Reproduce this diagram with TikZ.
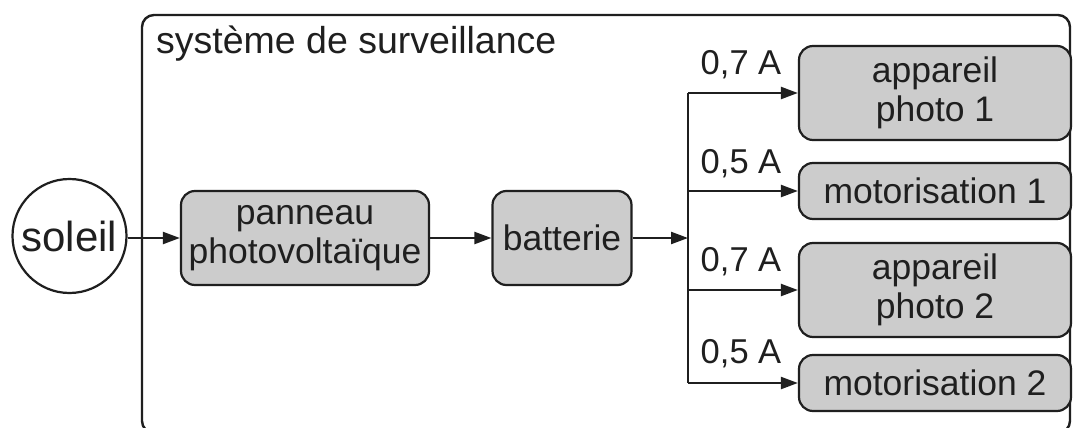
\documentclass[tikz,border=0pt]{standalone}
\usepackage{fontspec}
\setmainfont{Liberation Sans}
\usetikzlibrary{arrows.meta,positioning}
\definecolor{boxfill}{gray}{0.80}
\definecolor{ink}{gray}{0.12}
\tikzset{
  box/.style={draw=ink, line width=2.2pt, fill=boxfill, rounded corners=14pt,
    align=center, inner sep=0pt, font=\fontsize{35.5}{38.5}\selectfont, text=ink},
  arr/.style={draw=ink, line width=2.2pt, -{Triangle[length=17pt,width=12pt]}},
  wire/.style={draw=ink, line width=2.2pt},
  lbl/.style={font=\fontsize{34.5}{38}\selectfont, text=ink, inner sep=0pt},
}
\begin{document}
\begin{tikzpicture}[x=1pt,y=-1pt]
\useasboundingbox (0,0) rectangle (1074,428);
\path[fill=white] (0,0) rectangle (1074,428);
\begin{scope}
\clip (0,0) rectangle (1074,428);
% frame
\draw[ink, line width=2.4pt, rounded corners=12pt] (142,15) rectangle (1070,433);
\end{scope}
\node[lbl, font=\fontsize{37.5}{40}\selectfont, anchor=west] (title) at (156,44) {système de surveillance};
% nodes
\node[draw=ink, line width=2.2pt, circle, fill=white, minimum size=114pt, inner sep=0pt,
      font=\fontsize{42}{44}\selectfont, text=ink] (sol) at (69.5,236) {soleil};
\node[box, minimum width=248pt, minimum height=94pt] (pan) at (305,238) {panneau\\photovoltaïque};
\node[box, minimum width=139pt, minimum height=94pt] (bat) at (562,238) {batterie};
\coordinate (jx) at (688,238);
\node[box, minimum width=272pt, minimum height=94pt] (ap1) at (935,93) {appareil\\photo 1};
\node[box, minimum width=272pt, minimum height=56pt] (mo1) at (935,191) {motorisation 1};
\node[box, minimum width=272pt, minimum height=94pt] (ap2) at (935,290) {appareil\\photo 2};
\node[box, minimum width=272pt, minimum height=56pt] (mo2) at (935,383) {motorisation 2};
% connectors
\draw[arr] (sol.east |- pan.west) -- (pan.west);
\draw[arr] (pan.east) -- (bat.west);
\draw[arr] (bat.east) -- (jx);
\draw[wire] (jx |- ap1.west) -- (jx |- mo2.west);
\draw[arr] (jx |- ap1.west) -- (ap1.west);
\draw[arr] (jx |- mo1.west) -- (mo1.west);
\draw[arr] (jx |- ap2.west) -- (ap2.west);
\draw[arr] (jx |- mo2.west) -- (mo2.west);
% labels
\node[lbl] (l1) at (741,65) {0,7 A};
\node[lbl] (l2) at (741,164) {0,5 A};
\node[lbl] (l3) at (741,262) {0,7 A};
\node[lbl] (l4) at (741,354) {0,5 A};
\end{tikzpicture}
\end{document}
